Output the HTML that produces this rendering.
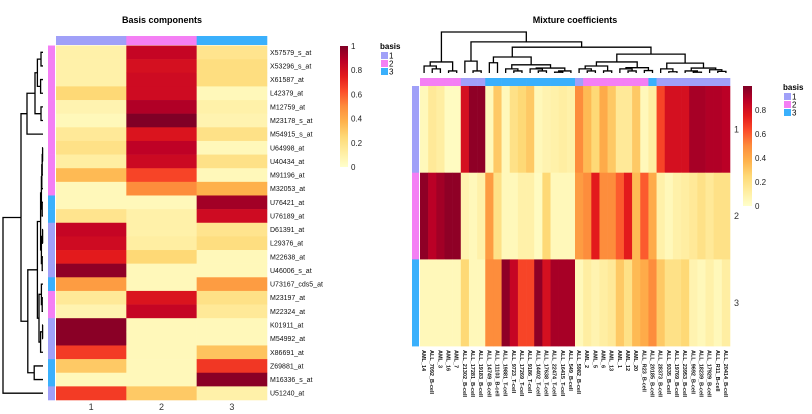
<!DOCTYPE html>
<html><head><meta charset="utf-8"><style>
html,body{margin:0;padding:0;background:#fff;}
svg{display:block;font-family:"Liberation Sans",sans-serif;}
</style></head><body>
<svg id="chart" width="812" height="414" viewBox="0 0 812 414">
<defs>
<linearGradient id="cbar" x1="0" y1="1" x2="0" y2="0">
<stop offset="0" stop-color="#FFFFCC"/><stop offset="0.125" stop-color="#FFEDA0"/><stop offset="0.25" stop-color="#FED976"/><stop offset="0.375" stop-color="#FEB24C"/><stop offset="0.5" stop-color="#FD8D3C"/><stop offset="0.625" stop-color="#FC4E2A"/><stop offset="0.75" stop-color="#E31A1C"/><stop offset="0.875" stop-color="#BD0026"/><stop offset="1" stop-color="#800026"/>
</linearGradient>
</defs>
<text x="162" y="23" text-anchor="middle" font-size="9" font-weight="bold">Basis components</text>
<text x="575" y="23" text-anchor="middle" font-size="9" font-weight="bold">Mixture coefficients</text>
<g id="left"></g><g id="right"></g>
<rect x="340" y="46" width="8" height="121" fill="url(#cbar)"/>
<rect x="743" y="86" width="9" height="120" fill="url(#cbar)"/>
<g id="cbticks" font-size="8" fill="#222"></g>
<g id="legends" font-size="8"></g>
</svg>
<script>
const basisGenes=["X57579_s_at","X53296_s_at","X61587_at","L42379_at","M12759_at","M23178_s_at","M54915_s_at","U64998_at","U40434_at","M91196_at","M32053_at","U76421_at","U76189_at","D61391_at","L29376_at","M22638_at","U46006_s_at","U73167_cds5_at","M23197_at","M22324_at","K01911_at","M54992_at","X86691_at","Z69881_at","M16336_s_at","U51240_at"];
const basis1=[0.1,0.1,0.1,0.25,0.08,0.05,0.15,0.2,0.12,0.35,0.05,0.05,0.18,0.85,0.82,0.75,0.97,0.45,0.15,0.08,0.98,0.98,0.67,0.3,0.05,0.67];
const basis2=[0.85,0.8,0.82,0.82,0.9,1.0,0.78,0.87,0.83,0.65,0.5,0.05,0.1,0.1,0.12,0.25,0.05,0.05,0.78,0.85,0.05,0.05,0.05,0.05,0.05,0.3];
const basis3=[0.18,0.22,0.22,0.05,0.1,0.08,0.2,0.05,0.2,0.05,0.38,0.93,0.82,0.18,0.22,0.05,0.05,0.45,0.2,0.15,0.05,0.05,0.32,0.68,0.98,0.1];
const geneBasis=[2,2,2,2,2,2,2,2,2,2,2,3,3,1,1,1,1,3,2,2,1,1,1,3,3,1];
const samples=["AML_14","ALL_7092_B-cell","AML_3","AML_16","AML_7","ALL_21302_B-cell","ALL_17281_B-cell","ALL_19183_B-cell","ALL_14749_B-cell","ALL_11103_B-cell","ALL_19881_T-cell","ALL_9723_T-cell","ALL_17269_T-cell","ALL_9186_T-cell","ALL_14402_T-cell","ALL_17638_T-cell","ALL_22474_T-cell","ALL_16415_T-cell","ALL_549_B-cell","ALL_5982_B-cell","AML_2","AML_5","AML_6","AML_13","AML_1","AML_12","AML_20","ALL_R23_B-cell","ALL_20185_B-cell","ALL_28373_B-cell","ALL_9335_B-cell","ALL_19769_B-cell","ALL_23953_B-cell","ALL_9692_B-cell","ALL_18239_B-cell","ALL_17929_B-cell","ALL_R11_B-cell","ALL_20414_B-cell"];
const coef1=[0.05,0.15,0.12,0.03,0.03,0.8,0.97,0.97,0.05,0.3,0.05,0.2,0.25,0.3,0.05,0.08,0.1,0.12,0.1,0.5,0.35,0.25,0.4,0.3,0.15,0.15,0.3,0.05,0.12,0.65,0.8,0.8,0.8,0.92,0.92,0.9,0.9,0.88];
const coef2=[0.97,0.88,0.93,0.97,0.97,0.08,0.05,0.1,0.45,0.2,0.05,0.05,0.1,0.1,0.03,0.25,0.05,0.05,0.05,0.45,0.5,0.75,0.5,0.5,0.6,0.75,0.35,0.6,0.4,0.1,0.05,0.1,0.12,0.15,0.2,0.15,0.2,0.2];
const coef3=[0.05,0.05,0.05,0.05,0.05,0.25,0.05,0.05,0.5,0.5,0.97,0.85,0.65,0.65,0.97,0.8,0.92,0.92,0.92,0.05,0.12,0.08,0.12,0.15,0.3,0.2,0.35,0.4,0.5,0.3,0.2,0.2,0.25,0.08,0.05,0.1,0.05,0.12];
const sampleBasis=[2,2,2,2,2,1,1,1,3,3,3,3,3,3,3,3,3,3,3,1,2,2,2,2,2,2,2,2,3,1,1,1,1,1,1,1,1,1];
const rowTree=[[[[[[0,1,.05],[2,3,.06],.14],[4,5,.05],.2],6,.4],[[[[[[[7,8,.01],9,.02],10,.03],[11,12,.02],.04],[[13,14,.01],[15,16,.02],.04],.06],[[17,[18,19,.02],.04],[[20,21,.01],22,.06],.1],.14],[23,24,.22],.38],.55],25,1];
const colTree=[[[0,[1,2,.1],.17],[3,4,.05],.27],[[5,[6,7,.05],.29],[[[8,9,.25],[[10,[11,12,.05],.1],[[13,[14,15,.05],.1],[[16,17,.02],18,.05],.12],.2],.39],[[[[19,[20,21,.05],.1],[22,23,.05],.17],[[24,[25,26,.05],.1],[27,28,.06],.13],.27],[[29,[30,31,.03],.1],[[32,[33,34,.02],.05],[35,[36,37,.04],.08],.12],.24],.46],.63],.76],1];

const NS="http://www.w3.org/2000/svg";
const annCol={1:"#A0A0F8",2:"#F47FF4",3:"#3AB0FC"};
const stops=["#FFFFCC","#FFEDA0","#FED976","#FEB24C","#FD8D3C","#FC4E2A","#E31A1C","#BD0026","#800026"];
function hex(c){return [1,3,5].map(i=>parseInt(c.substr(i,2),16));}
function color(v){v=Math.max(0,Math.min(1,v));const p=v*8,i=Math.min(7,Math.floor(p)),t=p-i;const a=hex(stops[i]),b=hex(stops[i+1]);return "rgb("+a.map((x,k)=>Math.round(x+(b[k]-x)*t)).join(",")+")";}
function mk(parent,tag,at){const e=document.createElementNS(NS,tag);for(const k in at)e.setAttribute(k,at[k]);parent.appendChild(e);return e;}

const L=document.getElementById("left");
const lx0=56,lcw=70.33,ly0=45.5,lrh=(400-45.5)/basisGenes.length;
const bcols=[basis1,basis2,basis3];
bcols.forEach((arr,j)=>{
  const a=mk(L,"rect",{x:lx0+j*lcw,y:36,width:lcw+0.3,height:9,fill:annCol[j+1]});
  
  
  arr.forEach((v,i)=>{
    const r=mk(L,"rect",{x:lx0+j*lcw,y:ly0+i*lrh,width:lcw+0.3,height:lrh+0.3,fill:color(v)});
    
    
  });
  const t=mk(L,"text",{x:lx0+(j+0.5)*lcw,y:410,"text-anchor":"middle","font-size":"9",fill:"#333"});
  t.textContent=String(j+1);
  
  
});
basisGenes.forEach((g,i)=>{
  const a=mk(L,"rect",{x:48,y:ly0+i*lrh,width:7,height:lrh+0.3,fill:annCol[geneBasis[i]]});
  
  
  const t=mk(L,"text",{x:270,y:ly0+(i+0.5)*lrh+2.5,"font-size":"7",fill:"#111"});
  t.textContent=g;
  
  
});
function drawTree(node,g,leafPos,hPos,horiz){
  if(typeof node==="number") return {p:leafPos(node),h:hPos(0)};
  const a=drawTree(node[0],g,leafPos,hPos,horiz),b=drawTree(node[1],g,leafPos,hPos,horiz);
  const h=hPos(node[2]);
  let d;
  if(horiz) d="M"+a.h+","+a.p+"H"+h+"V"+b.p+"H"+b.h;
  else d="M"+a.p+","+a.h+"V"+h+"H"+b.p+"V"+b.h;
  const p=mk(g,"path",{d:d,fill:"none",stroke:"#000","stroke-width":"1.3"});
  
  
  return {p:(a.p+b.p)/2,h:h};
}
const RD=mk(L,"g",{});


drawTree(rowTree,RD,i=>ly0+(i+0.5)*lrh,h=>43-h*40,true);

const R=document.getElementById("right");
const rx0=420,rcw=310/samples.length,ry0=86,rrh=86.7;
const crows=[coef1,coef2,coef3];
crows.forEach((arr,i)=>{
  arr.forEach((v,j)=>{
    const r=mk(R,"rect",{x:rx0+j*rcw,y:ry0+i*rrh,width:rcw+0.3,height:rrh+0.3,fill:color(v)});
    
    
  });
  const a=mk(R,"rect",{x:412,y:ry0+i*rrh,width:7,height:rrh+0.3,fill:annCol[i+1]});
  
  
  const t=mk(R,"text",{x:734,y:ry0+(i+0.5)*rrh+3,"font-size":"9",fill:"#333"});
  t.textContent=String(i+1);
  
  
});
samples.forEach((s,j)=>{
  const a=mk(R,"rect",{x:rx0+j*rcw,y:78,width:rcw+0.3,height:8,fill:annCol[sampleBasis[j]]});
  
  
  const cx=rx0+(j+0.5)*rcw-2;
  const t=mk(R,"text",{x:cx,y:350,"font-size":"5.5","font-weight":"bold",fill:"#111",transform:"rotate(90 "+cx+" 350)"});
  t.textContent=s;
  
  
});
const CD=mk(R,"g",{});


drawTree(colTree,CD,j=>rx0+(j+0.5)*rcw,h=>73-h*41,false);

const CT=document.getElementById("cbticks");
const tickVals=[0,0.2,0.4,0.6,0.8,1];
const tickLabels=["0","0.2","0.4","0.6","0.8","1"];
tickVals.forEach((v,k)=>{
  const t=mk(CT,"text",{x:351,y:167-v*121+3});
  t.textContent=tickLabels[k];
  
  
  if(v<1){
    const t2=mk(CT,"text",{x:755,y:206-v*120+3});
    t2.textContent=tickLabels[k];
    
    
  }
});
const LG=document.getElementById("legends");
[[380,49],[783,90]].forEach(([lx,ly],n)=>{
  const t=mk(LG,"text",{x:lx,y:ly,"font-weight":"bold"});
  t.textContent="basis";
  
  
  [1,2,3].forEach((b,k)=>{
    const r=mk(LG,"rect",{x:lx+1,y:ly+3+k*8,width:7,height:7,fill:annCol[b]});
    
    
    const l=mk(LG,"text",{x:lx+9,y:ly+9.5+k*8});
    l.textContent=String(b);
    
    
  });
});
</script>
</body></html>
